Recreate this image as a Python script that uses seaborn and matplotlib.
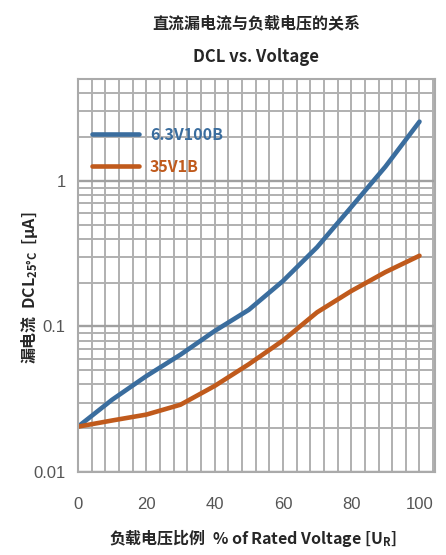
import numpy as np
import pandas as pd
import seaborn as sns
import matplotlib.pyplot as plt
from matplotlib.ticker import FixedLocator, LogLocator, NullFormatter

# values (DCL in uA at % of rated voltage)
pct = [0, 10, 20, 30, 40, 50, 60, 70, 80, 90, 100]
dcl_63v100b = [0.0205, 0.0314, 0.0456, 0.064, 0.093, 0.13, 0.205, 0.35, 0.66, 1.25, 2.55]
dcl_35v1b = [0.0205, 0.0226, 0.0248, 0.029, 0.039, 0.055, 0.08, 0.125, 0.175, 0.236, 0.306]
series = ['6.3V100B', '35V1B']
colors = ['#3a6d9e', '#c05a1c']
x_ticks = [0, 20, 40, 60, 80, 100]
y_ticks = [0.01, 0.1, 1]
y_labels = ['0.01', '0.1', '1']

df = pd.DataFrame({
    'pct': pct * 2,
    'dcl': dcl_63v100b + dcl_35v1b,
    'series': [series[0]] * len(pct) + [series[1]] * len(pct),
})

sns.set_style("white")
plt.rcParams['font.family'] = ['Noto Sans CJK SC', 'DejaVu Sans']

fig = plt.figure(figsize=(4.46, 5.55), dpi=100)
ax = fig.add_axes([0.175, 0.1495, 0.80, 0.708])

sns.lineplot(data=df, x='pct', y='dcl', hue='series', palette=colors,
             linewidth=3.3, ax=ax, legend=True)

ax.set_yscale('log')
ax.set_xlim(0, 104.5)
ax.set_ylim(0.01, 5)

ax.xaxis.set_major_locator(FixedLocator(x_ticks))
ax.xaxis.set_minor_locator(FixedLocator(np.arange(0, 105, 4)))
ax.yaxis.set_major_locator(FixedLocator(y_ticks))
ax.set_yticklabels(y_labels)
ax.yaxis.set_minor_locator(LogLocator(base=10, subs=np.arange(2, 10)))
ax.yaxis.set_minor_formatter(NullFormatter())

ax.grid(which='both', color='#b0b0b0', linewidth=1.4)
ax.grid(which='major', axis='y', color='#a0a0a0', linewidth=1.7)
ax.set_axisbelow(True)
ax.tick_params(which='both', length=0, labelsize=12, labelcolor='#555555')
ax.tick_params(axis='x', pad=18)
ax.tick_params(axis='y', pad=9)
for lbl in ax.get_xticklabels() + ax.get_yticklabels():
    lbl.set_family(['Liberation Sans Narrow', 'Liberation Sans', 'DejaVu Sans'])
for sp in ax.spines.values():
    sp.set_color('#aaaaaa')
    sp.set_linewidth(1.5)

ax.set_xlabel('负载电压比例  % of Rated Voltage [U$_\\mathregular{R}$]',
              fontsize=11.5, fontweight='bold')
ax.xaxis.label.set_va('center')
ax.xaxis.set_label_coords(0.49, -0.168)
ax.set_ylabel('漏电流  DCL$_\\mathregular{25°C}$  [μA]',
              fontsize=11.5, fontweight='bold')
ax.yaxis.label.set_va('center')
ax.yaxis.set_label_coords(-0.137, 0.47)

fig.text(0.575, 0.958, '直流漏电流与负载电压的关系', ha='center', va='center',
         fontsize=11.5, fontweight='bold')
fig.text(0.575, 0.898, 'DCL vs. Voltage', ha='center', va='center',
         fontsize=12, fontweight='bold')

leg = ax.legend(loc='upper left', bbox_to_anchor=(0.0, 0.915), frameon=False,
                handlelength=2.9, handletextpad=0.7, labelspacing=1.0,
                prop={'weight': 'bold', 'size': 11.5}, labelcolor='linecolor')

fig.savefig('out.png', dpi=100)
